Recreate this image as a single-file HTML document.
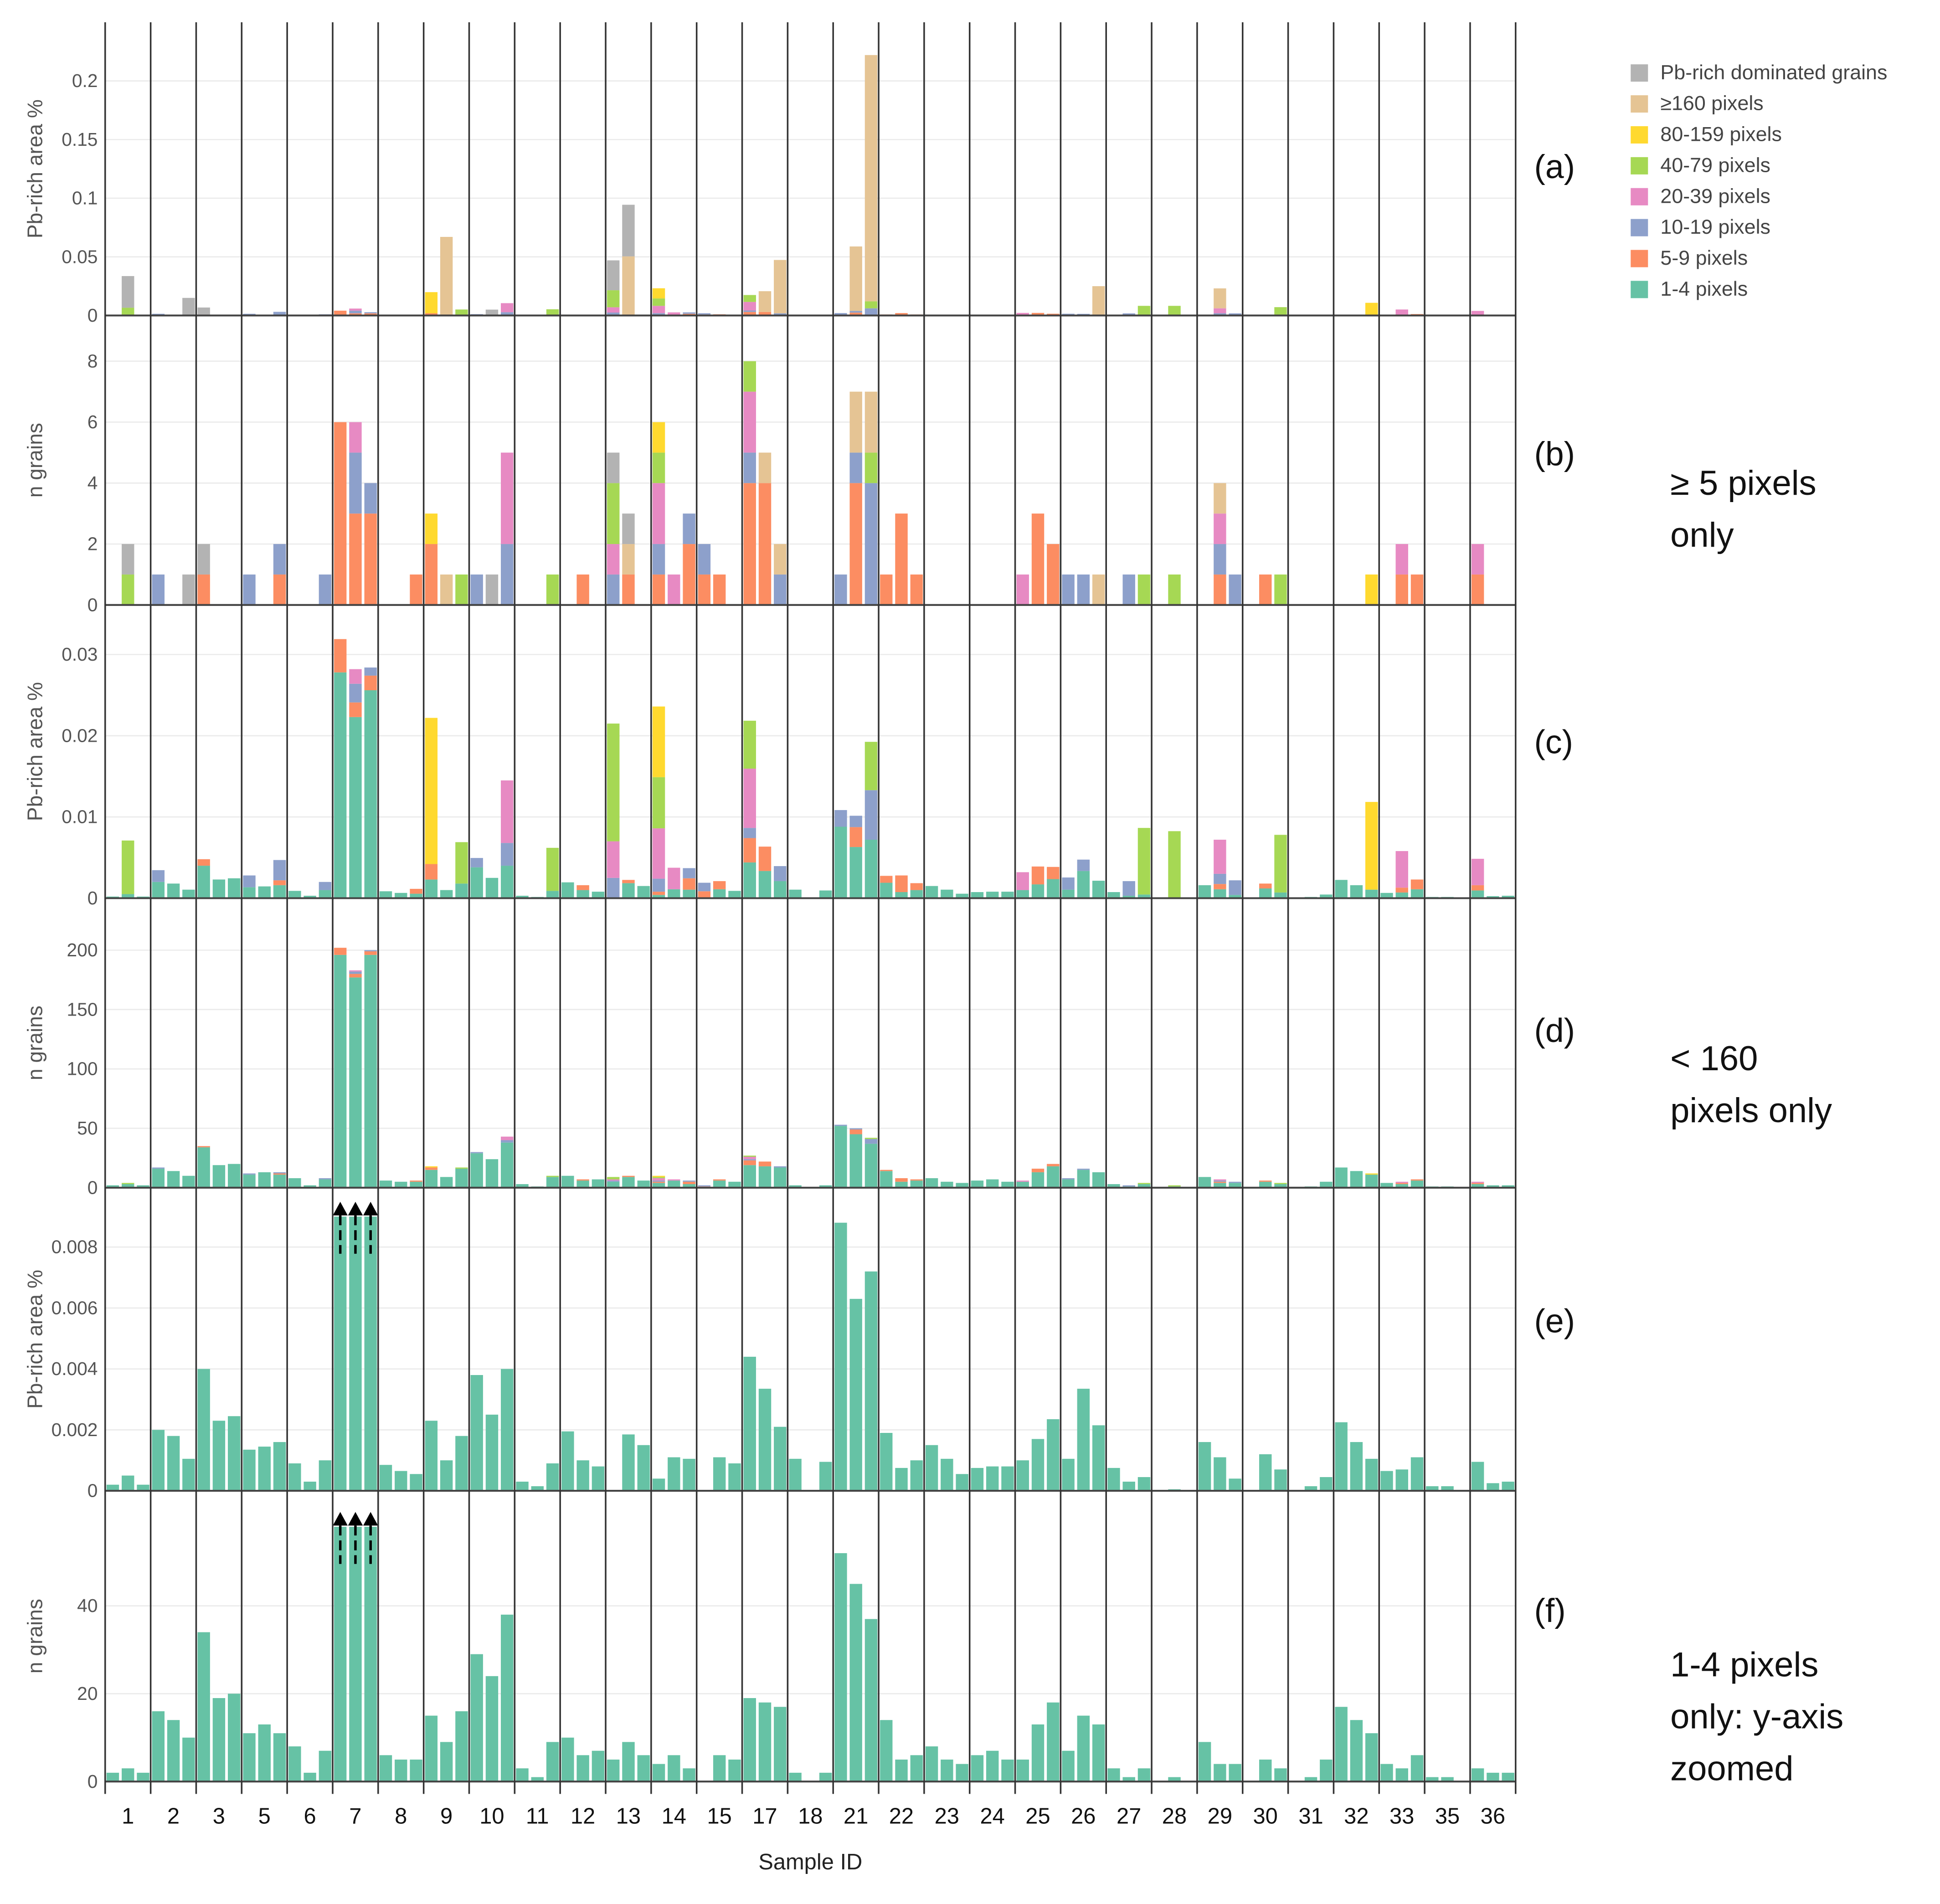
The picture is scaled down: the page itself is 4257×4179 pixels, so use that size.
<!DOCTYPE html>
<html><head><meta charset="utf-8"><style>
html,body{margin:0;padding:0;background:#fff;}
svg{display:block;}
text{font-family:"Liberation Sans","DejaVu Sans",sans-serif;}
</style></head><body>
<svg id="chart" xmlns="http://www.w3.org/2000/svg" width="4257" height="4179" viewBox="0 0 1568 1539" preserveAspectRatio="none">
<rect x="0" y="0" width="1568" height="1539" fill="#fff"/>
<g id="grid"></g><g id="bars"></g><g id="axes"></g><g id="labels"></g>
<g id="legend"></g>
</svg>
<script>
// ---- data ----
const sampleIds = ["1","2","3","5","6","7","8","9","10","11","12","13","14","15","17","18","21","22","23","24","25","26","27","28","29","30","31","32","33","35","36"];
const classNames = ["1-4 pixels","5-9 pixels","10-19 pixels","20-39 pixels","40-79 pixels","80-159 pixels","≥160 pixels","Pb-rich dominated grains"];
// counts (n grains), 3 replicates per sample
const count14 = [[2,3,2],[16,14,10],[34,19,20],[11,13,11],[8,2,7],[196,177,196],[6,5,5],[15,9,16],[29,24,38],[3,1,9],[10,6,7],[5,9,6],[4,6,3],[0,6,5],[19,18,17],[2,0,2],[52,45,37],[14,5,6],[8,5,4],[6,7,5],[5,13,18],[7,15,13],[3,1,3],[0,1,0],[9,4,4],[0,5,3],[0,1,5],[17,14,11],[4,3,6],[1,1,0],[3,2,2]];
const count59 = [[0,0,0],[0,0,0],[1,0,0],[0,0,1],[0,0,0],[6,3,3],[0,0,1],[2,0,0],[0,0,0],[0,0,0],[0,1,0],[0,1,0],[1,0,2],[1,1,0],[4,4,0],[0,0,0],[0,4,0],[1,3,1],[0,0,0],[0,0,0],[0,3,2],[0,0,0],[0,0,0],[0,0,0],[0,1,0],[0,1,0],[0,0,0],[0,0,0],[0,1,1],[0,0,0],[1,0,0]];
const count1019 = [[0,0,0],[1,0,0],[0,0,0],[1,0,1],[0,0,1],[0,2,1],[0,0,0],[0,0,0],[1,0,2],[0,0,0],[0,0,0],[1,0,0],[1,0,1],[1,0,0],[1,0,1],[0,0,0],[1,1,4],[0,0,0],[0,0,0],[0,0,0],[0,0,0],[1,1,0],[0,1,0],[0,0,0],[0,1,1],[0,0,0],[0,0,0],[0,0,0],[0,0,0],[0,0,0],[0,0,0]];
const count2039 = [[0,0,0],[0,0,0],[0,0,0],[0,0,0],[0,0,0],[0,1,0],[0,0,0],[0,0,0],[0,0,3],[0,0,0],[0,0,0],[1,0,0],[2,1,0],[0,0,0],[2,0,0],[0,0,0],[0,0,0],[0,0,0],[0,0,0],[0,0,0],[1,0,0],[0,0,0],[0,0,0],[0,0,0],[0,1,0],[0,0,0],[0,0,0],[0,0,0],[0,1,0],[0,0,0],[1,0,0]];
const count4079 = [[0,1,0],[0,0,0],[0,0,0],[0,0,0],[0,0,0],[0,0,0],[0,0,0],[0,0,1],[0,0,0],[0,0,1],[0,0,0],[2,0,0],[1,0,0],[0,0,0],[1,0,0],[0,0,0],[0,0,1],[0,0,0],[0,0,0],[0,0,0],[0,0,0],[0,0,0],[0,0,1],[0,1,0],[0,0,0],[0,0,1],[0,0,0],[0,0,0],[0,0,0],[0,0,0],[0,0,0]];
const count80159 = [[0,0,0],[0,0,0],[0,0,0],[0,0,0],[0,0,0],[0,0,0],[0,0,0],[1,0,0],[0,0,0],[0,0,0],[0,0,0],[0,0,0],[1,0,0],[0,0,0],[0,0,0],[0,0,0],[0,0,0],[0,0,0],[0,0,0],[0,0,0],[0,0,0],[0,0,0],[0,0,0],[0,0,0],[0,0,0],[0,0,0],[0,0,0],[0,0,1],[0,0,0],[0,0,0],[0,0,0]];
const count160 = [[0,0,0],[0,0,0],[0,0,0],[0,0,0],[0,0,0],[0,0,0],[0,0,0],[0,1,0],[0,0,0],[0,0,0],[0,0,0],[0,1,0],[0,0,0],[0,0,0],[0,1,1],[0,0,0],[0,2,2],[0,0,0],[0,0,0],[0,0,0],[0,0,0],[0,0,1],[0,0,0],[0,0,0],[0,1,0],[0,0,0],[0,0,0],[0,0,0],[0,0,0],[0,0,0],[0,0,0]];
const countPb = [[0,1,0],[0,0,1],[1,0,0],[0,0,0],[0,0,0],[0,0,0],[0,0,0],[0,0,0],[0,1,0],[0,0,0],[0,0,0],[1,1,0],[0,0,0],[0,0,0],[0,0,0],[0,0,0],[0,0,0],[0,0,0],[0,0,0],[0,0,0],[0,0,0],[0,0,0],[0,0,0],[0,0,0],[0,0,0],[0,0,0],[0,0,0],[0,0,0],[0,0,0],[0,0,0],[0,0,0]];
// areas (Pb-rich area %, units of 1e-3 %)
const area14 = [[0.2,0.5,0.2],[2.0,1.8,1.05],[4.0,2.3,2.45],[1.35,1.45,1.6],[0.9,0.3,1.0],[27.8,22.3,25.6],[0.85,0.65,0.55],[2.3,1.0,1.8],[3.8,2.5,4.0],[0.3,0.15,0.9],[1.95,1.0,0.8],[0,1.85,1.5],[0.4,1.1,1.05],[0,1.1,0.9],[4.4,3.35,2.1],[1.05,0,0.95],[8.8,6.3,7.2],[1.9,0.75,1.0],[1.5,1.05,0.55],[0.75,0.8,0.8],[1.0,1.7,2.35],[1.05,3.35,2.15],[0.75,0.3,0.45],[0,0.05,0],[1.6,1.1,0.4],[0,1.2,0.7],[0,0.15,0.45],[2.25,1.6,1.05],[0.65,0.7,1.1],[0.15,0.15,0],[0.95,0.25,0.3]];
const area59 = [[0,0,0],[0,0,0],[0.8,0,0],[0,0,0.6],[0,0,0],[4.1,1.8,1.8],[0,0,0.6],[1.9,0,0],[0,0,0],[0,0,0],[0,0.6,0],[0,0.4,0],[0.4,0,1.4],[0.85,1.0,0],[3.0,3.0,0],[0,0,0],[0,2.45,0],[0.85,2.05,0.85],[0,0,0],[0,0,0],[0,2.2,1.5],[0,0,0],[0,0,0],[0,0,0],[0,0.65,0],[0,0.6,0],[0,0,0],[0,0,0],[0,0.6,1.2],[0,0,0],[0.65,0,0]];
const area1019 = [[0,0,0],[1.45,0,0],[0,0,0],[1.45,0,2.5],[0,0,1.0],[0,2.3,1.0],[0,0,0],[0,0,0],[1.15,0,2.8],[0,0,0],[0,0,0],[2.5,0,0],[1.6,0,1.25],[1.05,0,0],[1.25,0,1.85],[0,0,0],[2.05,1.4,6.1],[0,0,0],[0,0,0],[0,0,0],[0,0,0],[1.5,1.4,0],[0,1.8,0],[0,0,0],[0,1.25,1.8],[0,0,0],[0,0,0],[0,0,0],[0,0,0],[0,0,0],[0,0,0]];
const area2039 = [[0,0,0],[0,0,0],[0,0,0],[0,0,0],[0,0,0],[0,1.8,0],[0,0,0],[0,0,0],[0,0,7.7],[0,0,0],[0,0,0],[4.5,0,0],[6.2,2.65,0],[0,0,0],[7.3,0,0],[0,0,0],[0,0,0],[0,0,0],[0,0,0],[0,0,0],[2.2,0,0],[0,0,0],[0,0,0],[0,0,0],[0,4.2,0],[0,0,0],[0,0,0],[0,0,0],[0,4.5,0],[0,0,0],[3.25,0,0]];
const area4079 = [[0,6.6,0],[0,0,0],[0,0,0],[0,0,0],[0,0,0],[0,0,0],[0,0,0],[0,0,5.1],[0,0,0],[0,0,5.3],[0,0,0],[14.5,0,0],[6.3,0,0],[0,0,0],[5.9,0,0],[0,0,0],[0,0,5.95],[0,0,0],[0,0,0],[0,0,0],[0,0,0],[0,0,0],[0,0,8.2],[0,8.2,0],[0,0,0],[0,0,7.1],[0,0,0],[0,0,0],[0,0,0],[0,0,0],[0,0,0]];
const area80159 = [[0,0,0],[0,0,0],[0,0,0],[0,0,0],[0,0,0],[0,0,0],[0,0,0],[18,0,0],[0,0,0],[0,0,0],[0,0,0],[0,0,0],[8.7,0,0],[0,0,0],[0,0,0],[0,0,0],[0,0,0],[0,0,0],[0,0,0],[0,0,0],[0,0,0],[0,0,0],[0,0,0],[0,0,0],[0,0,0],[0,0,0],[0,0,0],[0,0,10.8],[0,0,0],[0,0,0],[0,0,0]];
const area160 = [[0,0,0],[0,0,0],[0,0,0],[0,0,0],[0,0,0],[0,0,0],[0,0,0],[0,67,0],[0,0,0],[0,0,0],[0,0,0],[0,50,0],[0,0,0],[0,0,0],[0,17.7,45.5],[0,0,0],[0,55,210],[0,0,0],[0,0,0],[0,0,0],[0,0,0],[0,0,25],[0,0,0],[0,0,0],[0,17,0],[0,0,0],[0,0,0],[0,0,0],[0,0,0],[0,0,0],[0,0,0]];
const areaPb = [[0,27,0],[0,0,15],[6,0,0],[0,0,0],[0,0,0],[0,0,0],[0,0,0],[0,0,0],[0,5,0],[0,0,0],[0,0,0],[25.5,44,0],[0,0,0],[0,0,0],[0,0,0],[0,0,0],[0,0,0],[0,0,0],[0,0,0],[0,0,0],[0,0,0],[0,0,0],[0,0,0],[0,0,0],[0,0,0],[0,0,0],[0,0,0],[0,0,0],[0,0,0],[0,0,0],[0,0,0]];
const ticksA = [0,0.05,0.1,0.15,0.2];
const ticksB = [0,2,4,6,8];
const ticksC = [0,0.01,0.02,0.03];
const ticksD = [0,50,100,150,200];
const ticksE = [0,0.002,0.004,0.006,0.008];
const ticksF = [0,20,40];
const tickLabelsA = ["0","0.05","0.1","0.15","0.2"];
const tickLabelsC = ["0","0.01","0.02","0.03"];
const tickLabelsE = ["0","0.002","0.004","0.006","0.008"];

// ---- rendering ----
const NS="http://www.w3.org/2000/svg";
const colors=["#66c2a5","#fc8d62","#8da0cb","#e78ac3","#a6d854","#ffd92f","#e5c494","#b3b3b3"];
const X0=85,X1=1225,nG=sampleIds.length,gw=(X1-X0)/nG,slot=gw/3,bw=10.1;
const gGrid=document.getElementById('grid'),gBars=document.getElementById('bars'),gAxes=document.getElementById('axes'),gLab=document.getElementById('labels');
function mk(tag,attrs,parent){const e=document.createElementNS(NS,tag);for(const k in attrs)e.setAttribute(k,attrs[k]);parent.appendChild(e);return e;}
function xBar(g,k){return X0+g*gw+k*slot+1.1;}
const panels=[
 {id:'a',top:18,zero:255,max:0.25,scale:0.001,series:[null,area59,area1019,area2039,area4079,area80159,area160,areaPb],ticks:ticksA,tl:tickLabelsA,title:'Pb-rich area %',ly:144},
 {id:'b',top:255,zero:489,max:9.5,scale:1,series:[null,count59,count1019,count2039,count4079,count80159,count160,countPb],ticks:ticksB,tl:null,title:'n grains',ly:376},
 {id:'c',top:489,zero:726,max:0.0361,scale:0.001,series:[area14,area59,area1019,area2039,area4079,area80159,null,null],ticks:ticksC,tl:tickLabelsC,title:'Pb-rich area %',ly:609},
 {id:'d',top:726,zero:960,max:243.75,scale:1,series:[count14,count59,count1019,count2039,count4079,count80159,null,null],ticks:ticksD,tl:null,title:'n grains',ly:842},
 {id:'e',top:960,zero:1205,max:0.00995,scale:0.001,series:[area14,null,null,null,null,null,null,null],ticks:ticksE,tl:tickLabelsE,title:'Pb-rich area %',cap:0.0090,ly:1077},
 {id:'f',top:1205,zero:1440,max:66.2,scale:1,series:[count14,null,null,null,null,null,null,null],ticks:ticksF,tl:null,title:'n grains',cap:58,ly:1311}
];
panels.forEach(p=>{
 const y=v=>p.zero-v/p.max*(p.zero-p.top);
 p.ticks.forEach((t,i)=>{
  const yy=y(t);
  if(t>0){const gl=mk('line',{x1:X0,x2:X1,y1:yy,y2:yy,stroke:'#ebebeb','stroke-width':1},gGrid);
   
   }
  const tx=mk('text',{x:79,y:yy+5,'text-anchor':'end','font-size':15,fill:'#555'},gLab);
  tx.textContent=p.tl?p.tl[i]:String(t);
  
  
 });
 const ty=(p.top+p.zero)/2;
 const at=mk('text',{x:34,y:ty,'text-anchor':'middle','font-size':17,fill:'#555',transform:'rotate(-90 34 '+ty+')'},gLab);
 at.textContent=p.title;
 
 
 for(let g=0;g<nG;g++)for(let k=0;k<3;k++){
  let acc=0;
  for(let c=0;c<8;c++){
   const s=p.series[c]; if(!s)continue;
   const v=s[g][k]*p.scale; if(!v)continue;
   let y1=acc+v; let y0=acc; acc=y1;
   let top=y1, capped=false;
   if(p.cap!==undefined && top>p.cap){top=p.cap;capped=true;}
   if(y0>=top)continue;
   const r=mk('rect',{x:xBar(g,k),y:y(top),width:bw,height:y(y0)-y(top),fill:colors[c]},gBars);
   
   
   if(capped){
    const cx=xBar(g,k)+bw/2, yt=y(top);
    const tri=mk('polygon',{points:(cx-6)+','+(yt-1)+' '+(cx+6)+','+(yt-1)+' '+cx+','+(yt-12),fill:'#000'},gBars);
    
    
    const ln=mk('line',{x1:cx,x2:cx,y1:yt-1,y2:yt+30,stroke:'#000','stroke-width':2,'stroke-dasharray':'8,4'},gBars);
    
    
   }
  }
 }
 const ax=mk('line',{x1:X0,x2:X1,y1:p.zero,y2:p.zero,stroke:'#444','stroke-width':1.5},gAxes);
 
 
 const pl=mk('text',{x:1240,y:p.ly,'font-size':27,fill:'#111'},gLab);
 pl.textContent='('+p.id+')';
 
 
});
for(let g=0;g<=nG;g++){
 const xx=X0+g*gw;
 const vl=mk('line',{x1:xx,x2:xx,y1:18,y2:1450,stroke:'#333','stroke-width':1.3},gAxes);
 
 
}
sampleIds.forEach((s,g)=>{
 const t=mk('text',{x:X0+g*gw+gw/2,y:1474,'text-anchor':'middle','font-size':18,fill:'#111'},gLab);
 t.textContent=s;
 
 
});
const xt=mk('text',{x:655,y:1511,'text-anchor':'middle','font-size':18,fill:'#222'},gLab);
xt.textContent='Sample ID';


const notes=[[1350,400,'≥ 5 pixels'],[1350,442,'only'],[1350,865,'< 160'],[1350,907,'pixels only'],[1350,1355,'1-4 pixels'],[1350,1397,'only: y-axis'],[1350,1439,'zoomed']];
notes.forEach(n=>{const t=mk('text',{x:n[0],y:n[1],'font-size':28,fill:'#111'},gLab);t.textContent=n[2];
 
 });
const gLeg=document.getElementById('legend');
for(let i=0;i<8;i++){
 const c=7-i, yy=52+i*25;
 const r=mk('rect',{x:1318,y:yy,width:14,height:14,fill:colors[c]},gLeg);
 
 
 const t=mk('text',{x:1342,y:yy+12,'font-size':16.5,fill:'#444'},gLeg);
 t.textContent=classNames[c];
 
 
}
</script>
</body></html>
